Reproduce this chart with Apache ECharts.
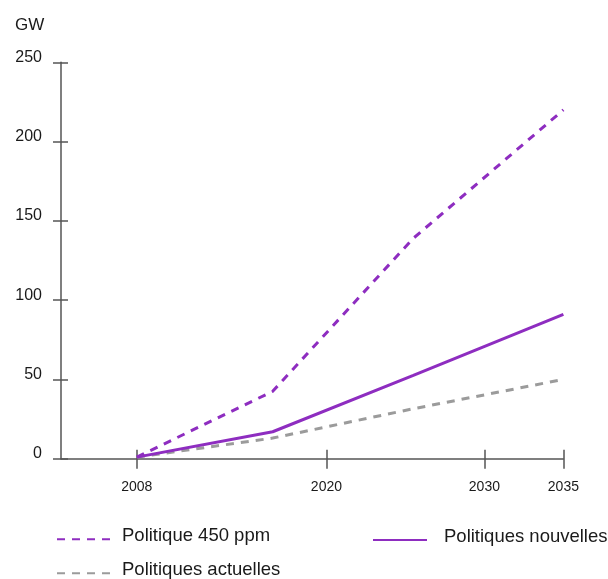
<!DOCTYPE html>
<html>
<head>
<meta charset="utf-8">
<script src="https://cdn.jsdelivr.net/npm/echarts@6/dist/echarts.min.js"></script>
<style>
  html, body { margin: 0; padding: 0; background: #fff; }
  #chart { width: 608px; height: 579px; }
</style>
</head>
<body>
<div id="chart"></div>
<script>
// Installed capacity (GW) by scenario
const years = [2008, 2016.6, 2025.5, 2035];
const politique450 = [1, 42.5, 139, 220];
const politiquesNouvelles = [1, 17, 52.5, 91];
const politiquesActuelles = [1, 13, 31.5, 50];

const xTicks = [2008, 2020, 2030, 2035];
const yTicks = [0, 50, 100, 150, 200, 250];

const seriesNames = ['Politique 450 ppm', 'Politiques nouvelles', 'Politiques actuelles'];

const PURPLE = '#8e2dc0';
const GREY = '#9b9b9b';
const AXIS = '#555555';
const FONT = '"Liberation Sans", Arial, sans-serif';

const pairs = vals => years.map((y, i) => [y, vals[i]]);

const chart = echarts.init(document.getElementById('chart'), null, { renderer: 'canvas' });

const xBase = {
  type: 'value', min: 2003.2, max: 2035, position: 'bottom',
  splitLine: { show: false }
};
const yBase = {
  type: 'value', min: yTicks[0], max: yTicks[yTicks.length - 1], interval: 50, position: 'left',
  splitLine: { show: false }
};

// one legend block per scenario; the label sits a little above its line sample
function legendAt(name, left, top, padLeft) {
  return {
    data: [name], left: left, top: top, padding: 0,
    itemWidth: 54, itemHeight: 14, selectedMode: false,
    itemStyle: { opacity: 0 },
    formatter: '{t|{name}}{s| }',
    textStyle: {
      rich: {
        t: { fontFamily: FONT, fontSize: 18.5, color: '#1a1a1a', verticalAlign: 'top', padding: [0, 0, 0, padLeft] },
        s: { fontSize: 1, height: 26, width: 0 }
      }
    }
  };
}

chart.setOption({
  animation: false,
  backgroundColor: '#ffffff',
  title: {
    text: 'GW', left: 10, top: 12,
    textStyle: { fontFamily: FONT, fontSize: 17, fontWeight: 'normal', color: '#1a1a1a' }
  },
  grid: { left: 61, right: 44.6, top: 62.3, bottom: 120.3, containLabel: false, outerBoundsMode: 'none' },
  xAxis: [
    Object.assign({}, xBase, {
      axisLine: { show: true, lineStyle: { color: AXIS, width: 1.5 } },
      axisTick: { show: true, length: 10, customValues: xTicks, lineStyle: { color: AXIS, width: 1.5 } },
      axisLabel: {
        show: true, customValues: xTicks, margin: 21,
        formatter: v => String(v),
        fontFamily: FONT, fontSize: 14, color: '#1a1a1a'
      }
    }),
    Object.assign({}, xBase, {
      axisLine: { show: false },
      axisTick: { show: true, inside: true, length: 9, customValues: xTicks, lineStyle: { color: AXIS, width: 1.5 } },
      axisLabel: { show: false }
    })
  ],
  yAxis: [
    Object.assign({}, yBase, {
      axisLine: { show: true, lineStyle: { color: AXIS, width: 1.5 } },
      axisTick: { show: true, length: 8, lineStyle: { color: AXIS, width: 1.5 } },
      axisLabel: {
        show: true, margin: 19, verticalAlign: 'bottom', lineHeight: 10,
        fontFamily: FONT, fontSize: 16, color: '#1a1a1a'
      }
    }),
    Object.assign({}, yBase, {
      axisLine: { show: false },
      axisTick: { show: true, inside: true, length: 7, lineStyle: { color: AXIS, width: 1.5 } },
      axisLabel: { show: false }
    })
  ],
  legend: [
    legendAt(seriesNames[0], 56, 526.3, 6),
    legendAt(seriesNames[2], 56, 560.3, 6),
    legendAt(seriesNames[1], 372, 527, 12)
  ],
  series: [
    {
      name: seriesNames[2], type: 'line', data: pairs(politiquesActuelles),
      symbol: 'none', color: GREY,
      lineStyle: { color: GREY, width: 3, type: [8, 7], cap: 'butt' }
    },
    {
      name: seriesNames[1], type: 'line', data: pairs(politiquesNouvelles),
      symbol: 'none', color: PURPLE,
      lineStyle: { color: PURPLE, width: 3, type: 'solid' }
    },
    {
      name: seriesNames[0], type: 'line', data: pairs(politique450),
      symbol: 'none', color: PURPLE,
      lineStyle: { color: PURPLE, width: 3, type: [8, 7], cap: 'butt' }
    }
  ]
});
</script>
</body>
</html>
